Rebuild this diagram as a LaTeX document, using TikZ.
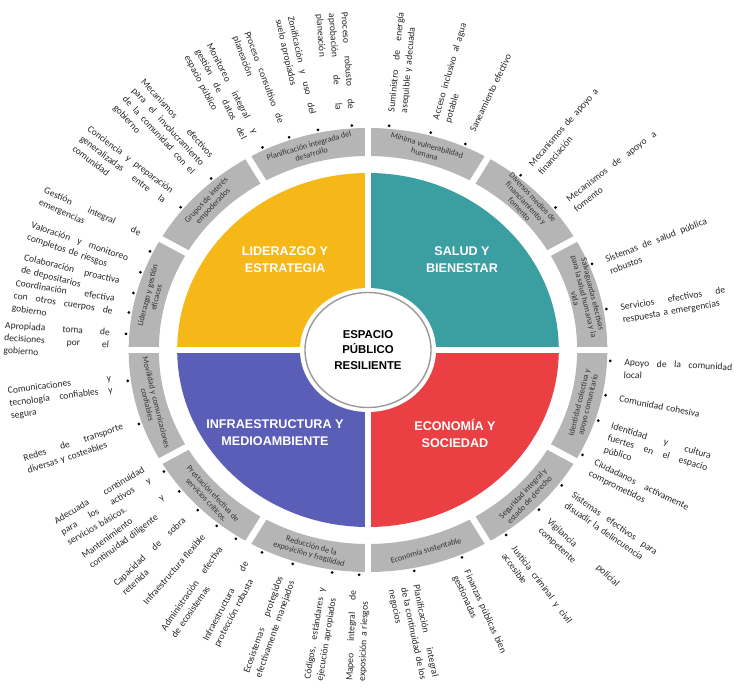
\documentclass[tikz,border=0pt]{standalone}
\usepackage{fontspec}
\setmainfont{Carlito}
\newfontfamily\headfont{Liberation Sans}
\usetikzlibrary{calc}
\definecolor{lidyellow}{HTML}{F6B719}
\definecolor{salteal}{HTML}{3B9EA0}
\definecolor{ecored}{HTML}{EA4044}
\definecolor{infblue}{HTML}{5B5EB6}
\definecolor{ringgray}{HTML}{B5B5B5}
\newcommand{\xs}{1.078}
\newlength{\itemwd}
\newcommand{\jl}[1]{\makebox[\itemwd][s]{\spaceskip=.22em plus 1fil\relax #1}\\}

\begin{document}
\begin{tikzpicture}[
  x=1pt, y=1pt,
  quad/.style={font=\headfont\bfseries\fontsize{12.6}{17}\selectfont,
               text=white, align=center},
  seglab/.style={font=\fontsize{8.2}{9.1}\selectfont, text=black!80,
                 align=center, inner sep=0pt},
  item/.style={font=\fontsize{9.6}{12.5}\selectfont, text=black!85,
               align=left, inner sep=0pt},
  itemdot/.style={circle, fill=black, inner sep=0pt, minimum size=3pt},
  gap/.style={white, line width=6.5pt}
]
\useasboundingbox (-368,-339) rectangle (371,350);
% the four quadrants
\fill[lidyellow] (0,0) -- (0,177) arc[start angle=90, end angle=180, x radius=\xs*177, y radius=177] -- cycle;
\fill[salteal] (0,0) -- (\xs*177,0) arc[start angle=0, end angle=90, x radius=\xs*177, y radius=177] -- cycle;
\fill[ecored] (0,0) -- (0,-177) arc[start angle=270, end angle=360, x radius=\xs*177, y radius=177] -- cycle;
\fill[infblue] (0,0) -- (-\xs*177,0) arc[start angle=180, end angle=270, x radius=\xs*177, y radius=177] -- cycle;
% ring of twelve segments
\fill[ringgray, even odd rule] (0,0) ellipse[x radius=\xs*222, y radius=222]
  (0,0) ellipse[x radius=\xs*194, y radius=194];
\foreach \a in {0,90,180,270}
  \draw[gap] (0,0) -- ({\xs*232*cos(\a)},{232*sin(\a)});
\foreach \a in {30,60,120,150,210,240,300,330}
  \draw[gap] ({\xs*185*cos(\a)},{185*sin(\a)}) -- ({\xs*230*cos(\a)},{230*sin(\a)});
% centre
\fill[white] (0,0) ellipse[x radius=68, y radius=62];
\draw[black!40, line width=1.4pt] (0,0) ellipse[x radius=63, y radius=57.5];
\node[font=\headfont\bfseries\fontsize{11.4}{15.7}\selectfont, align=center] (centre) at (0,0)
  {ESPACIO\\PÚBLICO\\RESILIENTE};
\node[quad] (lid) at (-83,90) {LIDERAZGO Y\\ESTRATEGIA};
\node[quad] (sal) at (94,90) {SALUD Y\\BIENESTAR};
\node[quad] (inf) at (-93,-83) {INFRAESTRUCTURA Y\\MEDIOAMBIENTE};
\node[quad] (eco) at (87,-83) {ECONOMÍA Y\\SOCIEDAD};
% segment labels
\foreach \a/\o/\t [count=\i] in {
  105/-90/{Planificación integrada del\\desarrollo},
  135/-90/{Grupos de interés\\empoderados},
  165/-90/{Liderazgo y gestión\\eficaces},
  195/90/{Movilidad y comunicaciones\\confiables},
  225/90/{Prestación efectiva de\\servicios críticos.},
  255/90/{Reducción de la\\exposición y fragilidad},
  285/90/{Economía sustentable},
  315/90/{Seguridad integral y\\estado de derecho},
  345/90/{Identidad colectiva y\\apoyo comunitario},
  15/-90/{Salvaguardas efectivas\\para la salud humana y la\\vida},
  45/-90/{Diversos medios de\\financiamiento y\\fomento},
  75/-90/{Mínima vulnerabilidad\\humana}}{
  \pgfmathsetmacro\r{atan2(sin(\a),\xs*cos(\a))}
  \node[seglab, rotate=\r+\o] (seg\i) at ({\xs*207.5*cos(\a)},{207.5*sin(\a)}) {\t};
}
% items on the left half (angle / width / lift / text)
\foreach \a/\w/\s/\t [count=\i] in {
  93.8/97/0/{\jl{Proceso robusto de}\jl{aprobación de la}planeación},
  101.9/100/-2/{\jl{Zonificación y uso del}suelo apropiados},
  109/97/-3/{\jl{Proceso consultivo de}planeación},
  115.8/100/0/{\jl{Monitoreo integral y}\jl{gestión de datos del}espacio público},
  130.3/102/15/{\jl{Mecanismos efectivos}\jl{para el involucramiento}\jl{de la comunidad con el}gobierno},
  140.6/105/7/{\jl{Conciencia y preparación}\jl{generalizadas entre la}comunidad},
  154/105/12/{\jl{Gestión integral de}emergencias},
  159.8/102/9/{\jl{Valoración y monitoreo}completos de riesgos},
  165.3/98/8/{\jl{Colaboración proactiva}de depositarios},
  170.4/100/11/{\jl{Coordinación efectiva}\jl{con otros cuerpos de}gobierno},
  175.9/105/0/{\jl{Apropiada toma de}\jl{decisiones por el}gobierno},
  187.9/104/5/{\jl{Comunicaciones y}\jl{tecnología confiables y}segura},
  199.2/104/2/{\jl{Redes de transporte}diversas y costeables},
  212.7/103/12/{\jl{Adecuada continuidad}\jl{para los activos y}servicios básicos.},
  218.9/100/5/{\jl{Mantenimiento y}continuidad diligente},
  225.4/95/2/{\jl{Capacidad de sobra}retenida},
  231.4/93/3/{\hfill Infraestructura flexible},
  237/100/7/{\jl{Administración efectiva}de ecosistemas},
  244.1/88/9/{\jl{Infraestructura de}protección robusta},
  251.9/102/7/{\jl{Ecosistemas protegidos}efectivamente manejados},
  261.5/93/7/{\jl{Códigos, estándares y}ejecución apropiados},
  267.9/90/5/{\jl{Mapeo integral de}exposición a riesgos}}{
  \pgfmathsetmacro\r{atan2(sin(\a),\xs*cos(\a))}
  \node[itemdot] (ldot\i) at ({\xs*225*cos(\a)},{225*sin(\a)}) {};
  \node[item, text width=\w pt, anchor=base east, rotate=\r-180]
    (ltext\i) at ($(ldot\i)+(\r:16pt)+(\r+90:2.5pt)+(\r-90:\s pt)$) {\setlength{\itemwd}{\w pt}\t};
}
% items on the right half
\foreach \a/\w/\t [count=\i] in {
  85/100/{\jl{Suministro de energía}asequible y adecuada},
  75/100/{\jl{Acceso inclusivo al agua}potable},
  66.3/90/{Saneamiento efectivo},
  51/100/{\jl{Mecanismos de apoyo a}financiación},
  39.3/110/{\jl{Mecanismos de apoyo a}fomento},
  22.5/108/{\jl{Sistemas de salud pública}robustos},
  10.5/106/{\jl{Servicios efectivos de}respuesta a emergencias},
  -2.8/108/{\jl{Apoyo de la comunidad}local},
  -11.6/100/{Comunidad cohesiva},
  -18.3/104/{\jl{Identidad y cultura}\jl{fuertes en el espacio}público},
  -27.8/104/{\jl{Ciudadanos activamente}comprometidos},
  -37/102/{\jl{Sistemas efectivos para}disuadir la delincuencia},
  -45.2/95/{\jl{Vigilancia policial}competente},
  -55.3/94/{\jl{Justicia criminal y civil}accesible},
  -67.2/90/{\jl{Finanzas públicas bien}gestionadas},
  -79/94/{\jl{Planificación integral}\jl{de la continuidad de los}negocios}}{
  \pgfmathsetmacro\r{atan2(sin(\a),\xs*cos(\a))}
  \node[itemdot] (rdot\i) at ({\xs*225*cos(\a)},{225*sin(\a)}) {};
  \node[item, text width=\w pt, anchor=base west, rotate=\r]
    (rtext\i) at ($(rdot\i)+(\r:14pt)+(\r-90:4pt)$) {\setlength{\itemwd}{\w pt}\t};
}
\end{tikzpicture}
\end{document}
